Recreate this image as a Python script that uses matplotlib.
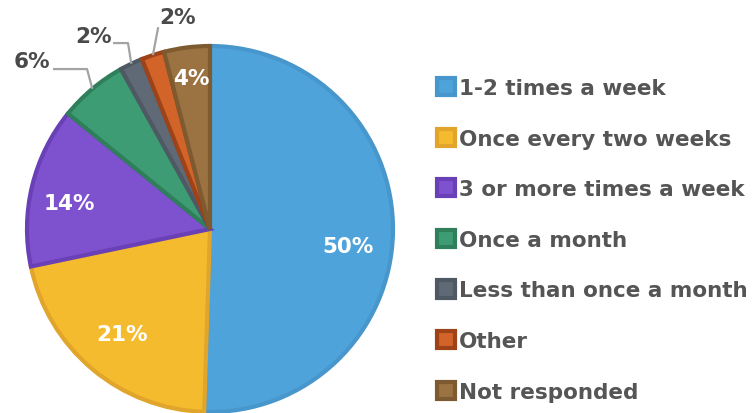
import numpy as np
import matplotlib.pyplot as plt

# survey answers, percent of respondents
categories = ['1-2 times a week', 'Once every two weeks', '3 or more times a week',
              'Once a month', 'Less than once a month', 'Other', 'Not responded']
shares = [50, 21, 14, 6, 2, 2, 4]

face_colors = ['#4ea3da', '#f4bb2e', '#7e52cf', '#3e9c74', '#5f6a76', '#d2642a', '#9b7342']
edge_colors = ['#4796cc', '#e0a52a', '#6a40b6', '#2f7f5b', '#4f5963', '#9e4318', '#7e5a30']

fig = plt.figure(figsize=(7.52, 4.14), dpi=100)
# pie centred at (210, 230) px, radius 183 px
ax = fig.add_axes([27 / 752, 1 / 414, 366 / 752, 366 / 414])

wedges, _ = ax.pie(shares, colors=face_colors, startangle=90, counterclock=False,
                   radius=1.0, wedgeprops=dict(linewidth=3))
for w, ec in zip(wedges, edge_colors):
    w.set_edgecolor(ec)
    w.set_joinstyle('miter')

ax.set_xlim(-1, 1)
ax.set_ylim(-1, 1)
ax.set_aspect('equal')
ax.axis('off')

# labels inside the big slices
inner = {0: (0.76, -6), 1: (0.75, 0), 2: (0.78, 3), 6: (0.83, 0)}
for i, (dist, nudge) in inner.items():
    w = wedges[i]
    ang = np.deg2rad((w.theta1 + w.theta2) / 2 + nudge)
    ax.text(dist * np.cos(ang), dist * np.sin(ang), f'{shares[i]:g}%',
            ha='center', va='center', color='white', fontsize=15.5,
            fontweight='bold')

# small slices get a label outside with a leader line
outer = {
    3: ((-0.672, 0.874), (-0.858, 0.874), (-0.975, 0.918)),
    4: ((-0.448, 1.016), (-0.530, 1.016), (-0.637, 1.055)),
    5: ((-0.283, 1.103), (-0.283, 1.103), (-0.175, 1.158)),
}
for i, (elbow, start, txt) in outer.items():
    w = wedges[i]
    ang = np.deg2rad((w.theta1 + w.theta2) / 2)
    ex, ey = np.cos(ang), np.sin(ang)
    ax.plot([ex, elbow[0], start[0]], [ey, elbow[1], start[1]],
            color='#a3a3a3', lw=1.6, clip_on=False, solid_capstyle='butt')
    ax.text(txt[0], txt[1], f'{shares[i]:g}%', ha='center', va='center',
            color='#4a4a4a', fontsize=15.5, fontweight='bold')

leg = ax.legend(wedges, categories, loc='upper left',
                bbox_to_anchor=(437 / 752, 1 - 79 / 414), bbox_transform=fig.transFigure,
                frameon=False, fontsize=15.5, borderpad=0, borderaxespad=0,
                handlelength=0.85, handleheight=0.85, handletextpad=0.15,
                labelspacing=1.42)
for t in leg.get_texts():
    t.set_color('#555555')
    t.set_fontweight('bold')

fig.savefig('out.png', dpi=100)
